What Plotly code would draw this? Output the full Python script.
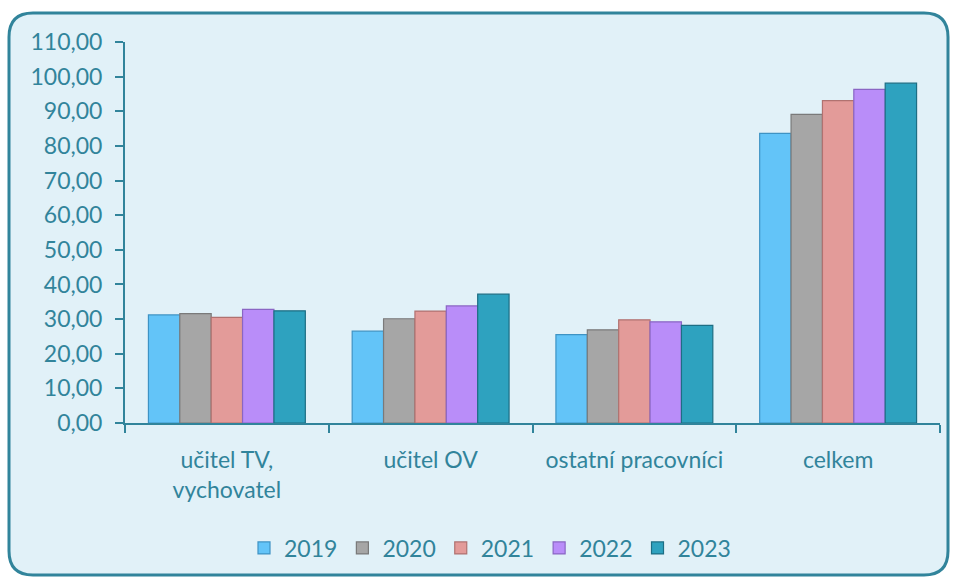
import plotly.graph_objects as go

# categories and values (FTE per year)
categories = ["učitel TV,<br>vychovatel", "učitel OV", "ostatní pracovníci", "celkem"]
years = ["2019", "2020", "2021", "2022", "2023"]
y2019 = [31.2, 26.5, 25.5, 83.6]
y2020 = [31.6, 30.1, 26.9, 89.1]
y2021 = [30.5, 32.3, 29.8, 93.1]
y2022 = [32.8, 33.8, 29.2, 96.3]
y2023 = [32.4, 37.2, 28.2, 98.1]
series = [y2019, y2020, y2021, y2022, y2023]

fills = ["#63C4F8", "#A6A6A6", "#E39B99", "#B98DF9", "#2EA2BF"]
edges = ["#3E93C4", "#7A7A7A", "#B07270", "#8A66C4", "#1D6E84"]

TEAL = "#31849B"
FONT = "Lato"

fig = go.Figure()
for name, vals, fc, ec in zip(years, series, fills, edges):
    fig.add_trace(go.Bar(
        name=name,
        x=categories,
        y=vals,
        marker=dict(color=fc, line=dict(color=ec, width=1.2)),
    ))

# plot area in pixels -> paper coords helpers for the rounded frame
L, R, T, B = 125, 940, 42, 423
W, H = 957, 581


def fx(px):
    return (px - L) / (R - L)


def fy(py):
    return (B - py) / (B - T)


x0, x1, y0, y1, rad = 9, 948, 13, 575, 24
frame = (
    f"M {fx(x0 + rad)},{fy(y0)} L {fx(x1 - rad)},{fy(y0)} "
    f"Q {fx(x1)},{fy(y0)} {fx(x1)},{fy(y0 + rad)} "
    f"L {fx(x1)},{fy(y1 - rad)} Q {fx(x1)},{fy(y1)} {fx(x1 - rad)},{fy(y1)} "
    f"L {fx(x0 + rad)},{fy(y1)} Q {fx(x0)},{fy(y1)} {fx(x0)},{fy(y1 - rad)} "
    f"L {fx(x0)},{fy(y0 + rad)} Q {fx(x0)},{fy(y0)} {fx(x0 + rad)},{fy(y0)} Z"
)

fig.update_layout(
    width=W,
    height=H,
    margin=dict(l=L, r=W - R, t=T, b=H - B, autoexpand=False),
    paper_bgcolor="white",
    plot_bgcolor="rgba(0,0,0,0)",
    separators=", ",
    font=dict(family=FONT, size=23, color=TEAL),
    barmode="group",
    bargap=0.23,
    bargroupgap=0,
    showlegend=True,
    legend=dict(
        orientation="h",
        x=fx(490), xanchor="center",
        y=fy(548), yanchor="middle",
        font=dict(family=FONT, size=23, color=TEAL),
        bgcolor="rgba(0,0,0,0)",
        itemclick=False,
        itemwidth=30,
    ),
    shapes=[dict(
        type="path", xref="paper", yref="paper", path=frame,
        fillcolor="#E1F1F8", line=dict(color=TEAL, width=3), layer="below",
    )],
)

fig.update_yaxes(
    range=[0, 110],
    dtick=10,
    tickformat=".2f",
    showgrid=False,
    zeroline=False,
    showline=True,
    linecolor=TEAL,
    linewidth=2,
    ticks="outside",
    ticklen=8,
    tickwidth=2,
    tickcolor=TEAL,
    ticklabelstandoff=8,
)
fig.update_xaxes(
    showgrid=False,
    showline=True,
    linecolor=TEAL,
    linewidth=2,
    ticks="outside",
    tickson="boundaries",
    ticklen=8,
    tickwidth=2,
    tickcolor=TEAL,
    ticklabelstandoff=15,
)

fig.write_html(
    "out.html",
    config={"displayModeBar": False},
    post_script="document.body.style.margin = '0';",
)
